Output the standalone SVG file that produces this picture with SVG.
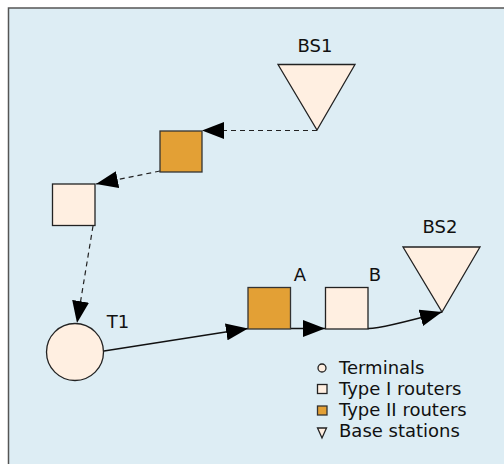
<svg xmlns="http://www.w3.org/2000/svg" width="504" height="464" viewBox="0 0 504 464">
<defs>
<marker id="arr" markerWidth="22" markerHeight="17" refX="22" refY="8.5" orient="auto" markerUnits="userSpaceOnUse">
<path d="M0,0 L22,8.5 L0,17 Z" fill="#000"/>
</marker>
<style>
.node{fill:#FFEFE1;stroke:#222;stroke-width:1.3}
.node2{fill:#E3A035;stroke:#333;stroke-width:1.3}
.lbl{font-family:"DejaVu Sans",sans-serif;font-size:18px;fill:#111}
.leg{font-family:"DejaVu Sans",sans-serif;font-size:18px;fill:#111}
.dash{fill:none;stroke:#222;stroke-width:1.2;stroke-dasharray:5,4}
.solid{fill:none;stroke:#111;stroke-width:1.3}
</style>
</defs>
<rect x="0" y="0" width="504" height="464" fill="#fff"/>
<rect x="8" y="8" width="496" height="456" fill="#DDEDF4"/>
<path d="M8.5,464 L8.5,8 L504,8" fill="none" stroke="#555" stroke-width="1.5"/>

<g id="connectors">
<path class="dash" d="M317,130.5 L202,130.5" marker-end="url(#arr)"/>
<path class="dash" d="M160,171 L96,184" marker-end="url(#arr)"/>
<path class="dash" d="M93,226 L77,323" marker-end="url(#arr)"/>
<path class="solid" d="M104,351 L248,328.5" marker-end="url(#arr)"/>
<path class="solid" d="M291,328.5 L325,328.5" marker-end="url(#arr)"/>
<path class="solid" d="M368,328.5 Q380,329 442,312" marker-end="url(#arr)"/>
</g>

<g id="BS1">
<polygon class="node" points="278,64.5 355,64.5 317,130"/>
<text class="lbl" x="315" y="52" text-anchor="middle">BS1</text>
</g>
<g id="R2a">
<rect class="node2" x="160" y="131" width="42" height="41"/>
</g>
<g id="R1a">
<rect class="node" x="52.5" y="184" width="42.5" height="41.5"/>
</g>
<g id="T1">
<circle class="node" cx="75" cy="352" r="28.5"/>
<text class="lbl" x="118" y="328" text-anchor="middle">T1</text>
</g>
<g id="A">
<rect class="node2" x="248" y="287.5" width="42.5" height="41.5"/>
<text class="lbl" x="300" y="281" text-anchor="middle">A</text>
</g>
<g id="B">
<rect class="node" x="325.5" y="287.5" width="42.5" height="41.5"/>
<text class="lbl" x="375" y="281" text-anchor="middle">B</text>
</g>
<g id="BS2">
<polygon class="node" points="403,247 480,247 442,312"/>
<text class="lbl" x="440" y="233" text-anchor="middle">BS2</text>
</g>

<g id="legend">
<circle class="node" cx="322" cy="368" r="4" stroke-width="1"/>
<text class="leg" x="339" y="374">Terminals</text>
<rect class="node" x="317.5" y="384.5" width="9.5" height="9" stroke-width="1"/>
<text class="leg" x="339" y="395">Type I routers</text>
<rect class="node2" x="317.5" y="406" width="9.5" height="9" stroke-width="1"/>
<text class="leg" x="339" y="416">Type II routers</text>
<polygon class="node" points="317.5,428 326.5,428 322,438" stroke-width="1"/>
<text class="leg" x="339" y="437">Base stations</text>
</g>
</svg>
